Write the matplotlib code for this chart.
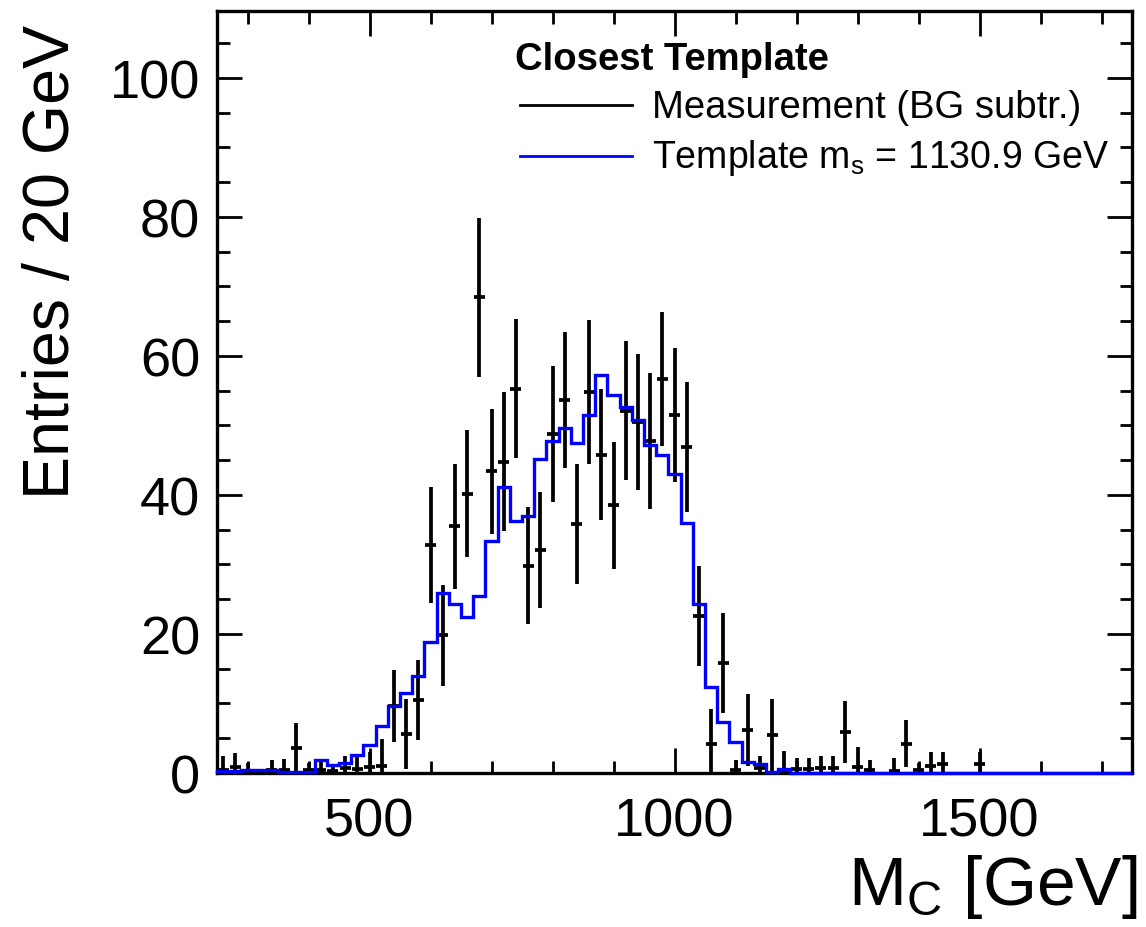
import numpy as np
import matplotlib
matplotlib.use("Agg")
import matplotlib.pyplot as plt
from matplotlib.lines import Line2D
from matplotlib.ticker import MultipleLocator

plt.rcParams['font.family'] = ['Liberation Sans', 'DejaVu Sans']
plt.rcParams['mathtext.fontset'] = 'custom'
plt.rcParams['mathtext.rm'] = 'Liberation Sans'
plt.rcParams['mathtext.it'] = 'Liberation Sans'

nan = np.nan
# 20 GeV bins from 250 to 1750 GeV
bin_lo, bin_hi, bin_w = 250, 1750, 20

meas_vals = [0.5, 0.8, 0.3, nan, 0.5, 0.5, 3.6, 0.4, 0.4, 0.3,
             0.7, 0.6, 0.8, 1.0, 9.6, 5.6, 10.5, 32.8, 19.8, 35.5,
             40.2, 68.4, 43.4, 44.8, 55.3, 29.8, 32.1, 48.8, 53.6, 35.8,
             54.8, 45.8, 38.5, 52.1, 50.5, 47.7, 56.7, 51.5, 46.9, 22.6,
             4.2, 15.8, 0.5, 6.2, 0.7, 5.4, 0.5, 0.6, 0.6, 0.7,
             0.7, 5.9, 0.8, 0.5, nan, 0.3, 4.2, 0.4, 1.0, 1.3,
             nan, nan, 1.3] + [nan] * 12

meas_errs = [2.0, 2.1, 1.1, nan, 1.3, 1.5, 3.6, 1.0, 1.2, 1.0,
             1.8, 1.7, 2.2, 3.9, 5.2, 5.0, 5.8, 8.3, 7.3, 9.0,
             9.1, 11.4, 9.0, 10.0, 10.0, 8.4, 8.3, 9.8, 9.8, 8.6,
             10.4, 9.4, 9.1, 10.0, 9.8, 9.8, 9.6, 9.6, 9.3, 7.2,
             5.0, 7.2, 1.3, 5.2, 1.8, 5.2, 2.6, 1.5, 1.5, 1.7,
             1.7, 4.4, 2.9, 1.3, nan, 1.8, 3.4, 1.0, 2.0, 1.7,
             nan, nan, 1.7] + [nan] * 12

template_vals = [0.3, 0.3, 0.5, 0.5, 0.5, 0.1, 0.1, 0.1, 1.9, 1.2,
                 1.5, 2.6, 4.0, 6.7, 9.6, 11.5, 14.0, 18.9, 25.9, 24.3,
                 22.5, 25.4, 33.3, 41.1, 36.3, 37.0, 45.2, 47.7, 49.6, 47.5,
                 51.5, 57.3, 54.4, 52.6, 50.8, 47.2, 45.7, 43.0, 36.0, 24.3,
                 12.3, 7.4, 4.4, 1.6, 1.3, 0.2, 0.6] + [0.0] * 28

x_major = [500, 1000, 1500]
y_major = [0, 20, 40, 60, 80, 100]

edges = np.arange(bin_lo, bin_hi + bin_w, bin_w)
centers = 0.5 * (edges[:-1] + edges[1:])

W, H = 1146, 928
fig = plt.figure(figsize=(W / 100, H / 100), dpi=100)
ax = fig.add_axes([217 / W, 1 - 774 / H, (1132 - 217) / W, (774 - 12) / H])

ax.stairs(template_vals, edges, color='#0000ff', lw=2.4, zorder=4, clip_on=False)
mv = np.array(meas_vals, dtype=float)
me = np.array(meas_errs, dtype=float)
ok = ~np.isnan(mv)
ax.errorbar(centers[ok], mv[ok], yerr=me[ok], xerr=9, fmt='none',
            ecolor='black', elinewidth=2.7, capsize=0, zorder=3)

ax.set_xlim(bin_lo, bin_hi)
ax.set_ylim(0, 109.6)
ax.set_xticks(x_major)
ax.set_yticks(y_major)
ax.xaxis.set_minor_locator(MultipleLocator(100))
ax.yaxis.set_minor_locator(MultipleLocator(5))
ax.tick_params(which='both', direction='in', top=True, right=True, width=2.0,
               labelsize=39, color='black')
ax.tick_params(which='major', length=18)
ax.tick_params(which='minor', length=9)
ax.tick_params(axis='x', which='major', pad=17)
ax.tick_params(axis='y', which='major', pad=12)
for s in ax.spines.values():
    s.set_linewidth(2.4)

fig.text(52 / W, 1 - 25 / H, 'Entries / 20 GeV', rotation=90, ha='center', va='top',
         fontsize=46.5)
fig.text(1137 / W, 1 - 905 / H, r'$\mathregular{M_C}$ [GeV]', ha='right', va='baseline',
         fontsize=50)

# legend
fig.text(515 / W, 1 - 60 / H, 'Closest Template', fontweight='bold', fontsize=27.5,
         ha='left', va='center')
fig.add_artist(Line2D([520 / W, 632 / W], [1 - 106 / H, 1 - 106 / H], color='black', lw=2.0))
fig.add_artist(Line2D([520 / W, 632 / W], [1 - 157 / H, 1 - 157 / H], color='#0000ff', lw=2.0))
fig.text(652 / W, 1 - 108 / H, 'Measurement (BG subtr.)', fontsize=27.5, ha='left', va='center')
fig.text(652 / W, 1 - 158 / H, r'Template $\mathregular{m_s}$ = 1130.9 GeV', fontsize=27,
         ha='left', va='center')

fig.savefig('out.png', dpi=100)
